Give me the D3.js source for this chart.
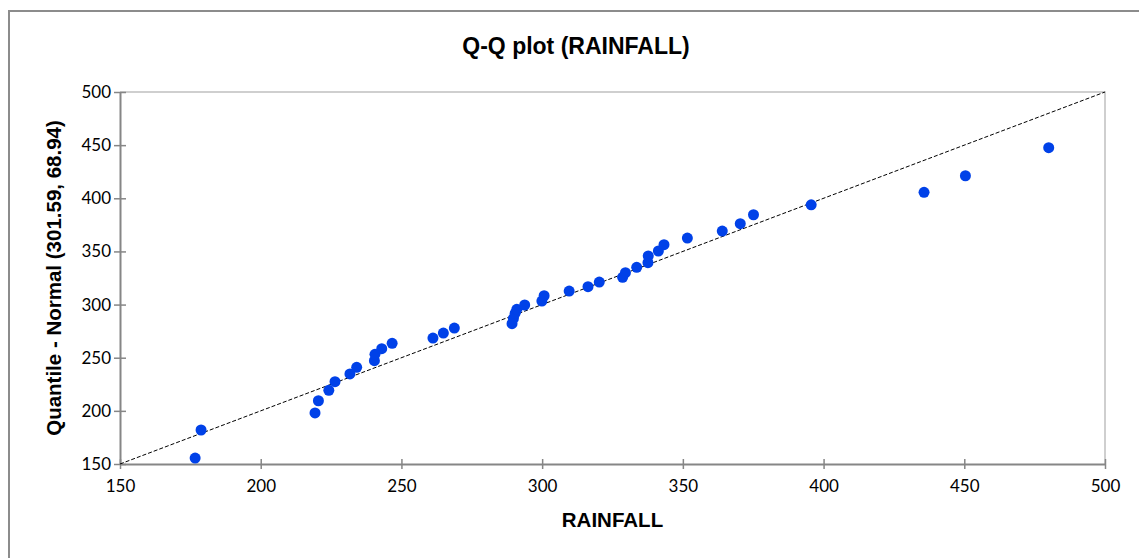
<!DOCTYPE html>
<html>
<head>
<meta charset="utf-8">
<title>Q-Q plot (RAINFALL)</title>
<script src="https://d3js.org/d3.v7.min.js"></script>
<style>
  body { margin: 0; background: #fff; }
  .tick text { font-family: Lato, "Open Sans", sans-serif; font-size: 17px; fill: #000; }
  .title { font-family: "Liberation Sans", Arial, sans-serif; font-weight: bold; }
</style>
</head>
<body>
<svg id="chart" width="1139" height="558"></svg>
<script>
// sorted rainfall values (x) and matching normal quantiles (y)
var rainfall = [176.7, 178.8, 219.3, 220.5, 224.2, 226.4, 231.7, 234.1, 240.4, 240.6,
  243.0, 246.7, 261.2, 264.9, 268.8, 289.3, 289.8, 290.4, 291.0, 293.8,
  299.9, 300.7, 309.6, 316.3, 320.3, 328.6, 329.6, 333.6, 337.6, 337.7,
  341.3, 343.3, 351.6, 364.0, 370.4, 375.1, 395.6, 435.7, 450.4, 480.0];
var normalQ = [155.6, 182.0, 198.0, 209.5, 219.3, 227.5, 234.7, 241.0, 247.2, 253.2,
  258.5, 263.5, 268.5, 273.2, 277.9, 282.0, 287.0, 291.8, 295.5, 299.6,
  303.3, 308.3, 312.7, 316.8, 321.2, 325.6, 330.0, 335.0, 339.4, 345.7,
  350.4, 356.3, 362.6, 369.2, 376.1, 384.5, 393.9, 405.6, 421.2, 447.6];
var ticks = [150, 200, 250, 300, 350, 400, 450, 500];
var domain = [150, 500];

var svg = d3.select("#chart");

// outer frame (runs off the right and bottom edge)
svg.append("rect")
  .attr("x", 9).attr("y", 11)
  .attr("width", 1300).attr("height", 700)
  .attr("fill", "#fff")
  .attr("stroke", "#8c8c8c")
  .attr("stroke-width", 2);

var pLeft = 120, pRight = 1105, pTop = 92, pBottom = 464;
var x = d3.scaleLinear().domain(domain).range([pLeft, pRight]);
var y = d3.scaleLinear().domain(domain).range([pBottom, pTop]);

// light plot border top + right
svg.append("path")
  .attr("d", "M" + pLeft + "," + pTop + "H" + pRight + "V" + pBottom)
  .attr("fill", "none")
  .attr("stroke", "#c0c0c0")
  .attr("stroke-width", 1.5);

var xAxis = svg.append("g")
  .attr("transform", "translate(0," + pBottom + ")")
  .call(d3.axisBottom(x).tickValues(ticks).tickSize(0).tickPadding(16));
xAxis.select(".domain").attr("stroke", "#868686").attr("stroke-width", 2);
xAxis.selectAll(".tick").append("line")
  .attr("y1", -5).attr("y2", 5)
  .attr("stroke", "#868686").attr("stroke-width", 1.5);

var yAxis = svg.append("g")
  .attr("transform", "translate(" + pLeft + ",0)")
  .call(d3.axisLeft(y).tickValues(ticks).tickSize(0).tickPadding(9));
yAxis.select(".domain").attr("stroke", "#868686").attr("stroke-width", 2);
yAxis.selectAll(".tick").append("line")
  .attr("x1", -6).attr("x2", 6)
  .attr("stroke", "#868686").attr("stroke-width", 1.5);

// reference line y = x
svg.append("line")
  .attr("x1", x(domain[0])).attr("y1", y(domain[0]))
  .attr("x2", x(domain[1])).attr("y2", y(domain[1]))
  .attr("stroke", "#000")
  .attr("stroke-width", 1)
  .attr("stroke-dasharray", "4,2");

svg.append("g").selectAll("circle")
  .data(rainfall)
  .enter().append("circle")
    .attr("cx", function(d){ return x(d) })
    .attr("cy", function(d, i){ return y(normalQ[i]) })
    .attr("r", 5.5)
    .attr("fill", "#0041e8");

svg.append("text").attr("class", "title")
  .attr("x", 576).attr("y", 54)
  .attr("text-anchor", "middle")
  .attr("font-size", 23)
  .text("Q-Q plot (RAINFALL)");

svg.append("text").attr("class", "title")
  .attr("x", (pLeft + pRight) / 2).attr("y", 527)
  .attr("text-anchor", "middle")
  .attr("font-size", 20.5)
  .text("RAINFALL");

svg.append("text").attr("class", "title")
  .attr("transform", "translate(61," + (pTop + pBottom) / 2 + ") rotate(-90)")
  .attr("text-anchor", "middle")
  .attr("font-size", 20.5)
  .text("Quantile - Normal (301.59, 68.94)");
</script>
</body>
</html>
